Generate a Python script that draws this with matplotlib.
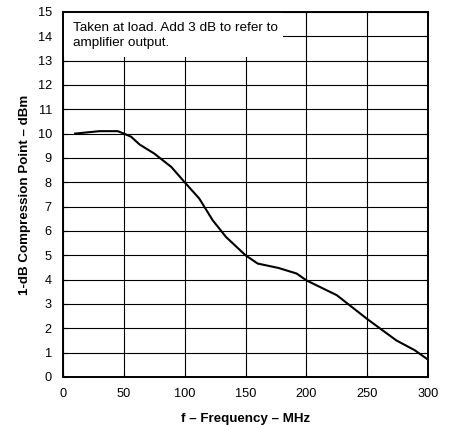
import matplotlib
matplotlib.use("Agg")
import matplotlib.pyplot as plt
from matplotlib.patches import Rectangle

plt.rcParams['font.family'] = ['Liberation Sans', 'DejaVu Sans']

freq_mhz = [10, 30, 45, 50, 56, 63, 75, 89, 100, 112, 123, 134, 150, 160, 177, 192, 200, 225, 250, 274, 289, 300]
p1db_dbm = [10.0, 10.1, 10.1, 10.0, 9.87, 9.55, 9.18, 8.63, 8.0, 7.33, 6.44, 5.75, 5.0, 4.66, 4.48, 4.25, 3.97, 3.36, 2.38, 1.5, 1.1, 0.71]
x_ticks = [0, 50, 100, 150, 200, 250, 300]
y_ticks = list(range(0, 16))
note = "Taken at load. Add 3 dB to refer to\namplifier output."

fig = plt.figure(figsize=(4.53, 4.25), dpi=100)
ax = fig.add_axes([0.139, 0.113, 0.806, 0.859])
ax.set_xlim(0, 300)
ax.set_ylim(0, 15)
ax.set_xticks(x_ticks)
ax.set_yticks(y_ticks)
ax.grid(True, color='black', linewidth=0.8, zorder=1)
ax.set_axisbelow(True)
for s in ax.spines.values():
    s.set_linewidth(1.4)
    s.set_zorder(5)
ax.tick_params(direction='in', length=3, width=0.8, labelsize=9.2,
               top=True, right=True)
ax.tick_params(axis='x', pad=8)
ax.tick_params(axis='y', pad=8)
ax.plot(freq_mhz, p1db_dbm, color='black', linewidth=1.5, zorder=3)

ax.add_patch(Rectangle((0, 13.15), 181, 1.85, facecolor='white', edgecolor='none', zorder=2))
ax.text(8, 14.6, note, fontsize=9.7, va='top', ha='left', linespacing=1.35, zorder=4)

ax.set_xlabel("f \u2013 Frequency \u2013 MHz", fontsize=9.6, fontweight='bold', labelpad=9)
ax.set_ylabel("1-dB Compression Point \u2013 dBm", fontsize=9.6, fontweight='bold', labelpad=5)

fig.savefig("out.png", dpi=100)
